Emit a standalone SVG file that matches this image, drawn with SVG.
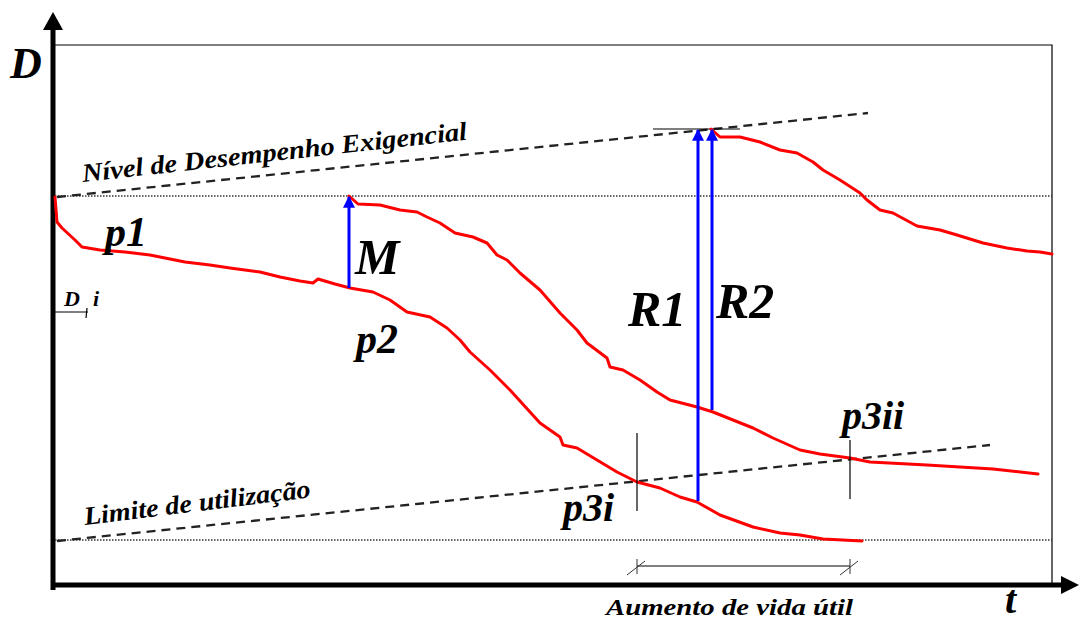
<svg xmlns="http://www.w3.org/2000/svg" width="1080" height="621" viewBox="0 0 1080 621">
<defs>
<style>
.lbl{font-family:"Liberation Serif","Times New Roman",serif;font-style:italic;font-weight:bold;fill:#000}
.red{fill:none;stroke:#ff0000;stroke-width:3;stroke-linejoin:round;stroke-linecap:round}
.blue{stroke:#0000ff;stroke-width:3}
.dash{fill:none;stroke:#222;stroke-width:2.3;stroke-dasharray:9,6}
.dot{fill:none;stroke:#333;stroke-width:1.5;stroke-dasharray:1.5,1.5}
.thin{fill:none;stroke:#000;stroke-width:1.2}
</style>
<marker id="bh" viewBox="0 0 10 10" refX="9" refY="5" markerWidth="4" markerHeight="5" orient="auto" markerUnits="strokeWidth">
<path d="M0,0 L10,5 L0,10 z" fill="#0000ff"/>
</marker>
</defs>
<rect width="1080" height="621" fill="#fff"/>

<g id="frame">
<path class="thin" d="M55,45 H1052 V585"/>
<line x1="53" y1="590" x2="53" y2="26" stroke="#000" stroke-width="5"/>
<path d="M53,12 L43,30 L63,30 z" fill="#000"/>
<line x1="51" y1="585" x2="1064" y2="585" stroke="#000" stroke-width="5"/>
<path d="M1079,585 L1061,576 L1061,594 z" fill="#000"/>
</g>

<g id="reference-lines">
<line class="dot" x1="55" y1="196" x2="1052" y2="196"/>
<line class="dot" x1="55" y1="540" x2="1052" y2="540"/>
<line class="dash" x1="57" y1="197" x2="868" y2="113"/>
<line class="dash" x1="57" y1="541" x2="990" y2="445"/>
<line class="thin" x1="653" y1="129" x2="740" y2="129"/>
</g>

<g id="curves">
<polyline class="red" points="55,197 57,222 62,228 75,240 82,247 100,250 125,252 150,255 160,257 185,262 210,265 230,268 260,272 280,277 300,281 313,283 318,279 335,284 350,288 373,292 390,300 407,312 430,317 447,328 460,340 470,352 490,370 510,390 530,412 540,423 560,437 563,445 577,448 597,460 617,472 637,482 660,488 680,497 697,502 720,515 753,527 780,533 800,535 823,539 862,541"/>
<polyline class="red" points="349,196 358,204 380,205 400,210 417,212 427,217 440,223 455,233 473,237 487,243 497,255 507,260 520,273 540,290 560,313 577,330 587,343 607,358 610,367 623,370 640,380 657,392 670,400 697,407 713,412 733,420 753,428 773,438 800,450 820,454 850,458 870,462 927,465 993,469 1038,474"/>
<polyline class="red" points="711,129 720,137 740,137 760,142 780,150 797,153 813,162 823,170 840,180 860,193 867,200 880,210 893,213 917,226 940,230 957,235 983,243 1007,248 1027,251 1040,252 1052,254"/>
</g>

<g id="arrows">
<line class="blue" x1="349" y1="288" x2="349" y2="197" marker-end="url(#bh)"/>
<line class="blue" x1="698" y1="501" x2="698" y2="130" marker-end="url(#bh)"/>
<line class="blue" x1="712" y1="410" x2="712" y2="130" marker-end="url(#bh)"/>
</g>

<g id="markers">
<line class="thin" x1="637" y1="433" x2="637" y2="511"/>
<line class="thin" x1="850" y1="440" x2="850" y2="499"/>
<line x1="637" y1="566" x2="850" y2="566" stroke="#555" stroke-width="1.5"/>
<line x1="637" y1="559" x2="637" y2="574" stroke="#333" stroke-width="1"/>
<line x1="627" y1="575" x2="645" y2="561" stroke="#333" stroke-width="1"/>
<line x1="850" y1="559" x2="850" y2="574" stroke="#333" stroke-width="1"/>
<line x1="840" y1="575" x2="858" y2="561" stroke="#333" stroke-width="1"/>
<line class="thin" x1="55" y1="312" x2="88" y2="312"/>
<line class="thin" x1="87" y1="308" x2="86" y2="318"/>
</g>

<g id="labels">
<text class="lbl" x="10" y="78" font-size="44">D</text>
<text class="lbl" x="64" y="306" font-size="22">D</text>
<text class="lbl" x="93" y="306" font-size="22">i</text>
<text class="lbl" x="83" y="182" font-size="26" textLength="387" lengthAdjust="spacingAndGlyphs" transform="rotate(-6.3 83 182)">Nível de Desempenho Exigencial</text>
<text class="lbl" x="85" y="525" font-size="26" textLength="228" lengthAdjust="spacingAndGlyphs" transform="rotate(-7 85 525)">Limite de utilização</text>
<text class="lbl" x="105" y="246" font-size="42">p1</text>
<text class="lbl" x="356" y="353" font-size="42">p2</text>
<text class="lbl" x="355" y="274" font-size="50">M</text>
<text class="lbl" x="628" y="326" font-size="50">R1</text>
<text class="lbl" x="716" y="318" font-size="50">R2</text>
<text class="lbl" x="563" y="521" font-size="40">p3i</text>
<text class="lbl" x="842" y="429" font-size="40">p3ii</text>
<text class="lbl" x="606" y="615" font-size="24" textLength="247" lengthAdjust="spacingAndGlyphs">Aumento de vida útil</text>
<text class="lbl" x="1005" y="613" font-size="40">t</text>
</g>
</svg>
